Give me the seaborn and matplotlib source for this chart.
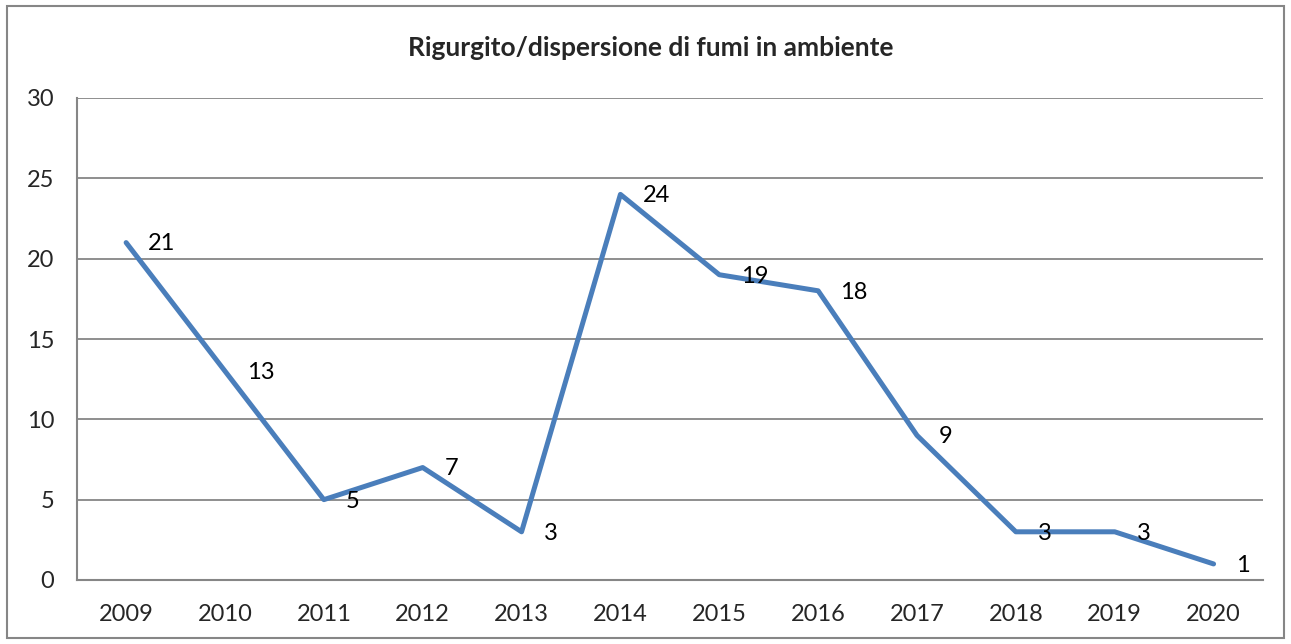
import numpy as np
import pandas as pd
import seaborn as sns
import matplotlib.pyplot as plt
from matplotlib.patches import Rectangle
from matplotlib.ticker import FixedLocator

years = ['2009', '2010', '2011', '2012', '2013', '2014', '2015', '2016', '2017', '2018', '2019', '2020']
counts = [21, 13, 5, 7, 3, 24, 19, 18, 9, 3, 3, 1]

df = pd.DataFrame({'pos': np.arange(len(years)), 'anno': years, 'n': counts})

sns.set_style('white')
plt.rcParams['font.family'] = ['Lato', 'DejaVu Sans']

fig = plt.figure(figsize=(12.91, 6.44), dpi=100)
ax = fig.add_axes([76.7 / 1291, 1 - 580 / 644, (1263 - 76.7) / 1291, (580 - 98) / 644])

grid_c = '#868686'
sns.lineplot(data=df, x='pos', y='n', ax=ax, color='#4A7EBB', linewidth=3.6, zorder=3)

# etichette dati a destra dei punti
for p, v in zip(df['pos'], df['n']):
    ax.annotate(str(v), (p, v), xytext=(16, -1), textcoords='offset points',
                ha='left', va='center', fontsize=17, color='black', zorder=4)

ax.set_xlim(-0.5, len(years) - 0.5)
ax.set_ylim(0, 30)
ax.set_yticks(range(0, 31, 5))
ax.set_xticks(df['pos'])
ax.set_xticklabels(years)
ax.xaxis.set_minor_locator(FixedLocator(np.arange(-0.5, len(years), 1)))
ax.tick_params(axis='x', which='major', length=0, pad=17, labelsize=17)
ax.tick_params(axis='x', which='minor', length=6, width=1.5, color=grid_c, direction='out')
ax.tick_params(axis='y', length=6, width=1.5, color=grid_c, pad=10, labelsize=17, direction='out')
ax.yaxis.grid(True, color=grid_c, linewidth=1.3)
ax.set_axisbelow(True)
ax.set_xlabel('')
ax.set_ylabel('')
for s in ['top', 'right']:
    ax.spines[s].set_visible(False)
for s in ['left', 'bottom']:
    ax.spines[s].set_color(grid_c)
    ax.spines[s].set_linewidth(1.5)

fig.text(0.504, 1 - 48 / 644, 'Rigurgito/dispersione di fumi in ambiente',
         ha='center', va='center', fontsize=19, fontweight='bold')

fig.patches.append(Rectangle((7 / 1291, 6 / 644), (1284 - 7) / 1291, (638 - 6) / 644,
                             transform=fig.transFigure, fill=False,
                             edgecolor=grid_c, linewidth=1.5))

fig.savefig('out.png', dpi=100)
